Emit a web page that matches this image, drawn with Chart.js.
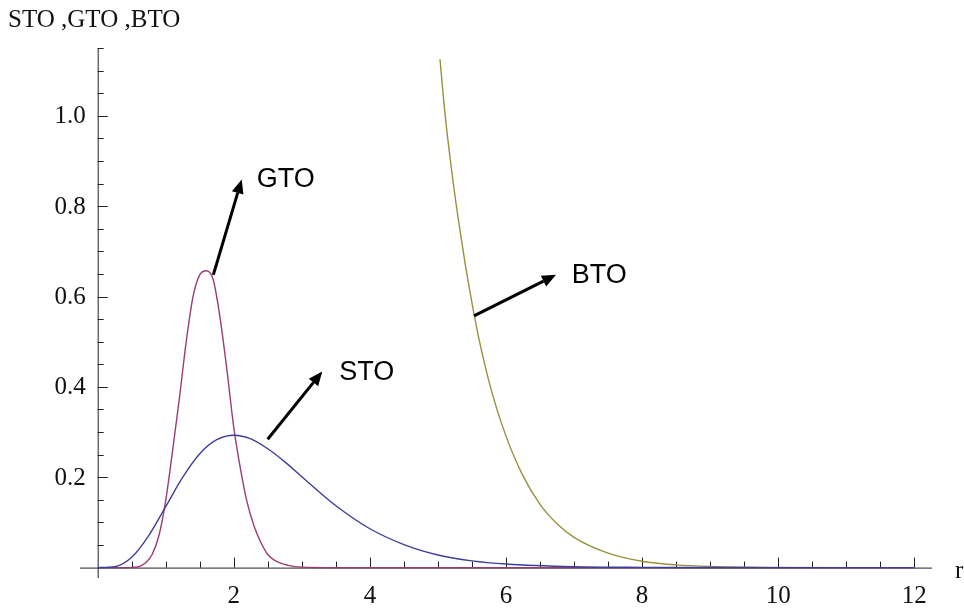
<!DOCTYPE html>
<html>
<head>
<meta charset="utf-8">
<script src="https://cdn.jsdelivr.net/npm/chart.js@4/dist/chart.umd.min.js"></script>
<style>
  html, body { margin: 0; padding: 0; background: #fff; }
  #wrap { width: 964px; height: 613px; }
</style>
</head>
<body>
<div id="wrap"><canvas id="chart" width="964" height="613"></canvas></div>
<script>
// values
const stoX = [0, 0.25, 0.5, 0.75, 1, 1.25, 1.5, 1.75, 2, 2.25, 2.5, 2.75, 3, 3.25, 3.5, 4, 4.5, 5, 5.5, 6, 7, 8, 9, 10, 12];
const stoY = [0, 0.002, 0.023, 0.071, 0.135, 0.200, 0.252, 0.283, 0.293, 0.285, 0.263, 0.234, 0.201, 0.168, 0.137, 0.086, 0.051, 0.028, 0.015, 0.008, 0.002, 0.0005, 0.0001, 0, 0];

const gtoX = [0, 0.4, 0.5, 0.6, 0.7, 0.8, 0.9, 1.0, 1.1, 1.2, 1.3, 1.4, 1.5, 1.6, 1.7, 1.8, 1.9, 2.0, 2.1, 2.2, 2.3, 2.4, 2.5, 2.6, 2.8, 3.0, 3.5, 12];
const gtoY = [0, 0, 0.0005, 0.002, 0.010, 0.029, 0.071, 0.149, 0.258, 0.374, 0.499, 0.599, 0.648, 0.657, 0.636, 0.551, 0.436, 0.310, 0.217, 0.142, 0.091, 0.055, 0.029, 0.016, 0.005, 0.001, 0, 0];

const btoX = [5.03, 5.1, 5.2, 5.3, 5.4, 5.5, 5.6, 5.8, 6.0, 6.25, 6.5, 6.75, 7.0, 7.5, 8.0, 8.5, 9.0, 10, 11, 12];
const btoY = [1.125, 1.010, 0.880, 0.770, 0.672, 0.586, 0.508, 0.384, 0.291, 0.203, 0.140, 0.097, 0.067, 0.032, 0.014, 0.006, 0.0025, 0.0004, 0, 0];

const xTickLabels = [2, 4, 6, 8, 10, 12];
const yTickLabels = [0.2, 0.4, 0.6, 0.8, 1.0];

// arrows + names (data coordinates)
const names = ['STO', 'GTO', 'BTO'];
const arrowFrom = [[2.498, 0.284], [1.699, 0.648], [5.53, 0.557]];
const arrowTo = [[3.30, 0.434], [2.116, 0.859], [6.735, 0.648]];
const nameAt = [[3.55, 0.415], [2.336, 0.843], [6.965, 0.629]];

const toPoints = (xs, ys) => xs.map((x, i) => ({ x: x, y: ys[i] }));

const axesPlugin = {
    id: 'mmaAxes',
    beforeDatasetsDraw(chart) {
        const ctx = chart.ctx;
        const xs = chart.scales.x, ys = chart.scales.y;
        const x0 = xs.getPixelForValue(0), y0 = ys.getPixelForValue(0);
        ctx.save();
        ctx.strokeStyle = '#222';
        ctx.lineWidth = 1;
        ctx.beginPath();
        // axis lines
        ctx.moveTo(xs.left, y0 + 0.5); ctx.lineTo(xs.right, y0 + 0.5);
        ctx.moveTo(x0 + 0.5, ys.top); ctx.lineTo(x0 + 0.5, ys.bottom);
        // x ticks, pointing up
        for (let v = 0.5; v <= 12.001; v += 0.5) {
            const px = Math.round(xs.getPixelForValue(v)) + 0.5;
            const len = xTickLabels.includes(Math.round(v * 10) / 10) ? 10 : 6;
            ctx.moveTo(px, y0); ctx.lineTo(px, y0 - len);
        }
        // y ticks, pointing right
        for (let k = 1; k <= 23; k++) {
            const v = k * 0.05;
            const py = Math.round(ys.getPixelForValue(v)) + 0.5;
            const len = (k % 4 === 0) ? 10 : 6;
            ctx.moveTo(x0, py); ctx.lineTo(x0 + len, py);
        }
        ctx.stroke();

        ctx.fillStyle = '#111';
        ctx.font = '25px "Liberation Serif", "Times New Roman", serif';
        ctx.textAlign = 'center';
        ctx.textBaseline = 'alphabetic';
        xTickLabels.forEach(v => {
            ctx.fillText(String(v), xs.getPixelForValue(v), y0 + 35);
        });
        ctx.textAlign = 'right';
        ctx.textBaseline = 'middle';
        yTickLabels.forEach(v => {
            ctx.fillText(v.toFixed(1), x0 - 12, ys.getPixelForValue(v) + 1);
        });
        // axis names
        ctx.textAlign = 'left';
        ctx.textBaseline = 'alphabetic';
        ctx.fillText('STO ,GTO ,BTO', 8, 27);
        ctx.fillText('r', 955, y0 + 10);
        ctx.restore();
    },
    afterDatasetsDraw(chart) {
        const ctx = chart.ctx;
        const xs = chart.scales.x, ys = chart.scales.y;
        ctx.save();
        ctx.strokeStyle = '#000';
        ctx.fillStyle = '#000';
        ctx.lineWidth = 3;
        arrowFrom.forEach((a, i) => {
            const x1 = xs.getPixelForValue(a[0]), y1 = ys.getPixelForValue(a[1]);
            const x2 = xs.getPixelForValue(arrowTo[i][0]), y2 = ys.getPixelForValue(arrowTo[i][1]);
            const ang = Math.atan2(y2 - y1, x2 - x1);
            const head = 14, half = 6;
            const bx = x2 - head * Math.cos(ang), by = y2 - head * Math.sin(ang);
            ctx.beginPath();
            ctx.moveTo(x1, y1);
            ctx.lineTo(bx, by);
            ctx.stroke();
            ctx.beginPath();
            ctx.moveTo(x2, y2);
            ctx.lineTo(bx + half * Math.sin(ang), by - half * Math.cos(ang));
            ctx.lineTo(bx - half * Math.sin(ang), by + half * Math.cos(ang));
            ctx.closePath();
            ctx.fill();
        });
        ctx.font = '27px "Liberation Sans", Arial, sans-serif';
        ctx.textAlign = 'left';
        ctx.textBaseline = 'alphabetic';
        names.forEach((n, i) => {
            ctx.fillText(n, xs.getPixelForValue(nameAt[i][0]), ys.getPixelForValue(nameAt[i][1]));
        });
        ctx.restore();
    }
};

const lineStyle = { borderWidth: 1.4, pointRadius: 0, fill: false, cubicInterpolationMode: 'monotone' };

new Chart(document.getElementById('chart'), {
    type: 'line',
    data: {
        datasets: [
            { label: 'STO', data: toPoints(stoX, stoY), borderColor: '#3e3d9e', ...lineStyle },
            { label: 'GTO', data: toPoints(gtoX, gtoY), borderColor: '#993d74', ...lineStyle },
            { label: 'BTO', data: toPoints(btoX, btoY), borderColor: '#99903d', ...lineStyle }
        ]
    },
    options: {
        responsive: false,
        animation: false,
        devicePixelRatio: 1,
        layout: { padding: { left: 80, right: 32, top: 48, bottom: 35 } },
        plugins: { legend: { display: false }, tooltip: { enabled: false } },
        scales: {
            x: { type: 'linear', min: -0.26, max: 12.26, display: false },
            y: { type: 'linear', min: -0.023, max: 1.15, display: false }
        }
    },
    plugins: [axesPlugin]
});
</script>
</body>
</html>
